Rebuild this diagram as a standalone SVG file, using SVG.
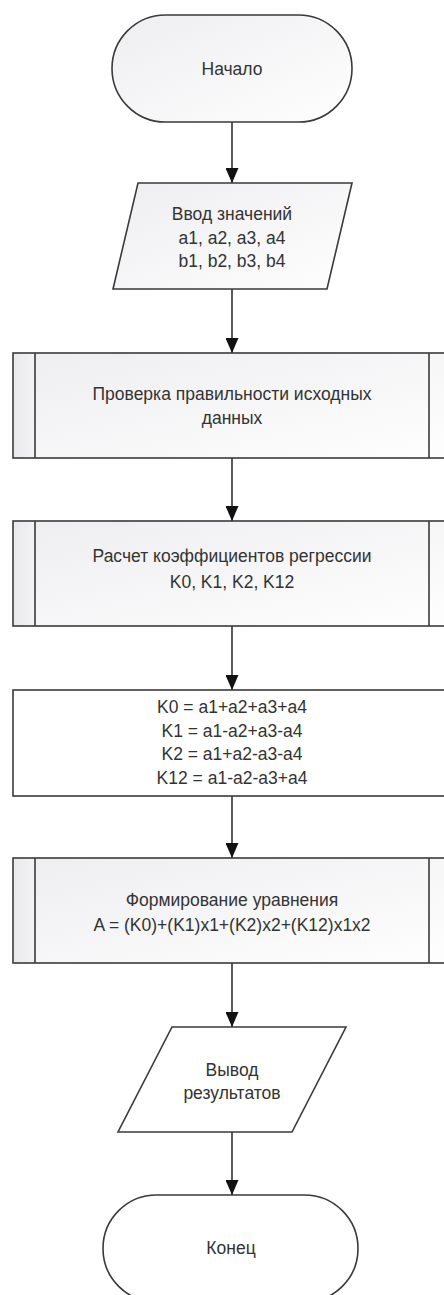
<svg xmlns="http://www.w3.org/2000/svg" width="444" height="1295" viewBox="0 0 444 1295">
<defs>
<linearGradient id="g" x1="0" y1="0" x2="1" y2="1">
<stop offset="0" stop-color="#eeeef1"/>
<stop offset="1" stop-color="#fefefe"/>
</linearGradient>
<linearGradient id="gs" x1="0" y1="0" x2="1" y2="0">
<stop offset="0" stop-color="#e9e9ed"/>
<stop offset="1" stop-color="#f3f3f5"/>
</linearGradient>
<marker id="arr" markerUnits="userSpaceOnUse" markerWidth="15" markerHeight="13" refX="15" refY="6.5" orient="auto">
<path d="M0,0 L15,6.5 L0,13 z" fill="#111"/>
</marker>
<style>
.s{stroke:#3a3a3a;stroke-width:1.6}
.f{fill:url(#g)}
.w{fill:#ffffff}
.t{font-family:"Liberation Sans",Arial,sans-serif;font-size:17.5px;fill:#333;text-anchor:middle}
.c{stroke:#333;stroke-width:1.6;fill:none;marker-end:url(#arr)}
</style>
</defs>
<rect width="444" height="1295" fill="#ffffff"/>
<g id="connectors">
<line class="c" x1="232" y1="122" x2="232" y2="183"/>
<line class="c" x1="232" y1="289" x2="232" y2="353"/>
<line class="c" x1="232" y1="458" x2="232" y2="521"/>
<line class="c" x1="232" y1="626" x2="232" y2="690"/>
<line class="c" x1="232" y1="796" x2="232" y2="858"/>
<line class="c" x1="232" y1="963" x2="232" y2="1027"/>
<line class="c" x1="232" y1="1132" x2="232" y2="1195"/>
</g>
<g id="start">
<rect class="s f" x="112" y="15" width="240" height="107" rx="53.5"/>
<text class="t" x="232" y="75">Начало</text>
</g>
<g id="input">
<polygon class="s f" points="138,183 352,183 327,289 113,289"/>
<text class="t" x="232" y="220">Ввод значений</text>
<text class="t" x="232" y="244">a1, a2, a3, a4</text>
<text class="t" x="232" y="267">b1, b2, b3, b4</text>
</g>
<g id="check">
<rect class="s f" x="13" y="353" width="438" height="105"/>
<rect x="14" y="354" width="21" height="103" fill="url(#gs)"/>
<line class="s" x1="35" y1="353" x2="35" y2="458"/>
<line class="s" x1="429" y1="353" x2="429" y2="458"/>
<text class="t" x="232" y="400">Проверка правильности исходных</text>
<text class="t" x="232" y="424">данных</text>
</g>
<g id="coef">
<rect class="s f" x="13" y="521" width="438" height="105"/>
<rect x="14" y="522" width="21" height="103" fill="url(#gs)"/>
<line class="s" x1="35" y1="521" x2="35" y2="626"/>
<line class="s" x1="429" y1="521" x2="429" y2="626"/>
<text class="t" x="232" y="562">Расчет коэффициентов регрессии</text>
<text class="t" x="232" y="588">K0, K1, K2, K12</text>
</g>
<g id="formulas">
<rect class="s w" x="13" y="690" width="438" height="106"/>
<text class="t" x="232" y="713">K0 = a1+a2+a3+a4</text>
<text class="t" x="232" y="737">K1 = a1-a2+a3-a4</text>
<text class="t" x="232" y="760">K2 = a1+a2-a3-a4</text>
<text class="t" x="232" y="784">K12 = a1-a2-a3+a4</text>
</g>
<g id="equation">
<rect class="s f" x="13" y="858" width="438" height="105"/>
<rect x="14" y="859" width="21" height="103" fill="url(#gs)"/>
<line class="s" x1="35" y1="858" x2="35" y2="963"/>
<line class="s" x1="429" y1="858" x2="429" y2="963"/>
<text class="t" x="232" y="906">Формирование уравнения</text>
<text class="t" x="232" y="931">A = (K0)+(K1)x1+(K2)x2+(K12)x1x2</text>
</g>
<g id="output">
<polygon class="s w" points="172,1027 346,1027 292,1132 118,1132"/>
<text class="t" x="232" y="1076">Вывод</text>
<text class="t" x="232" y="1099">результатов</text>
</g>
<g id="end">
<rect class="s w" x="103" y="1195" width="255" height="107" rx="53.5"/>
<text class="t" x="231" y="1254">Конец</text>
</g>
</svg>
